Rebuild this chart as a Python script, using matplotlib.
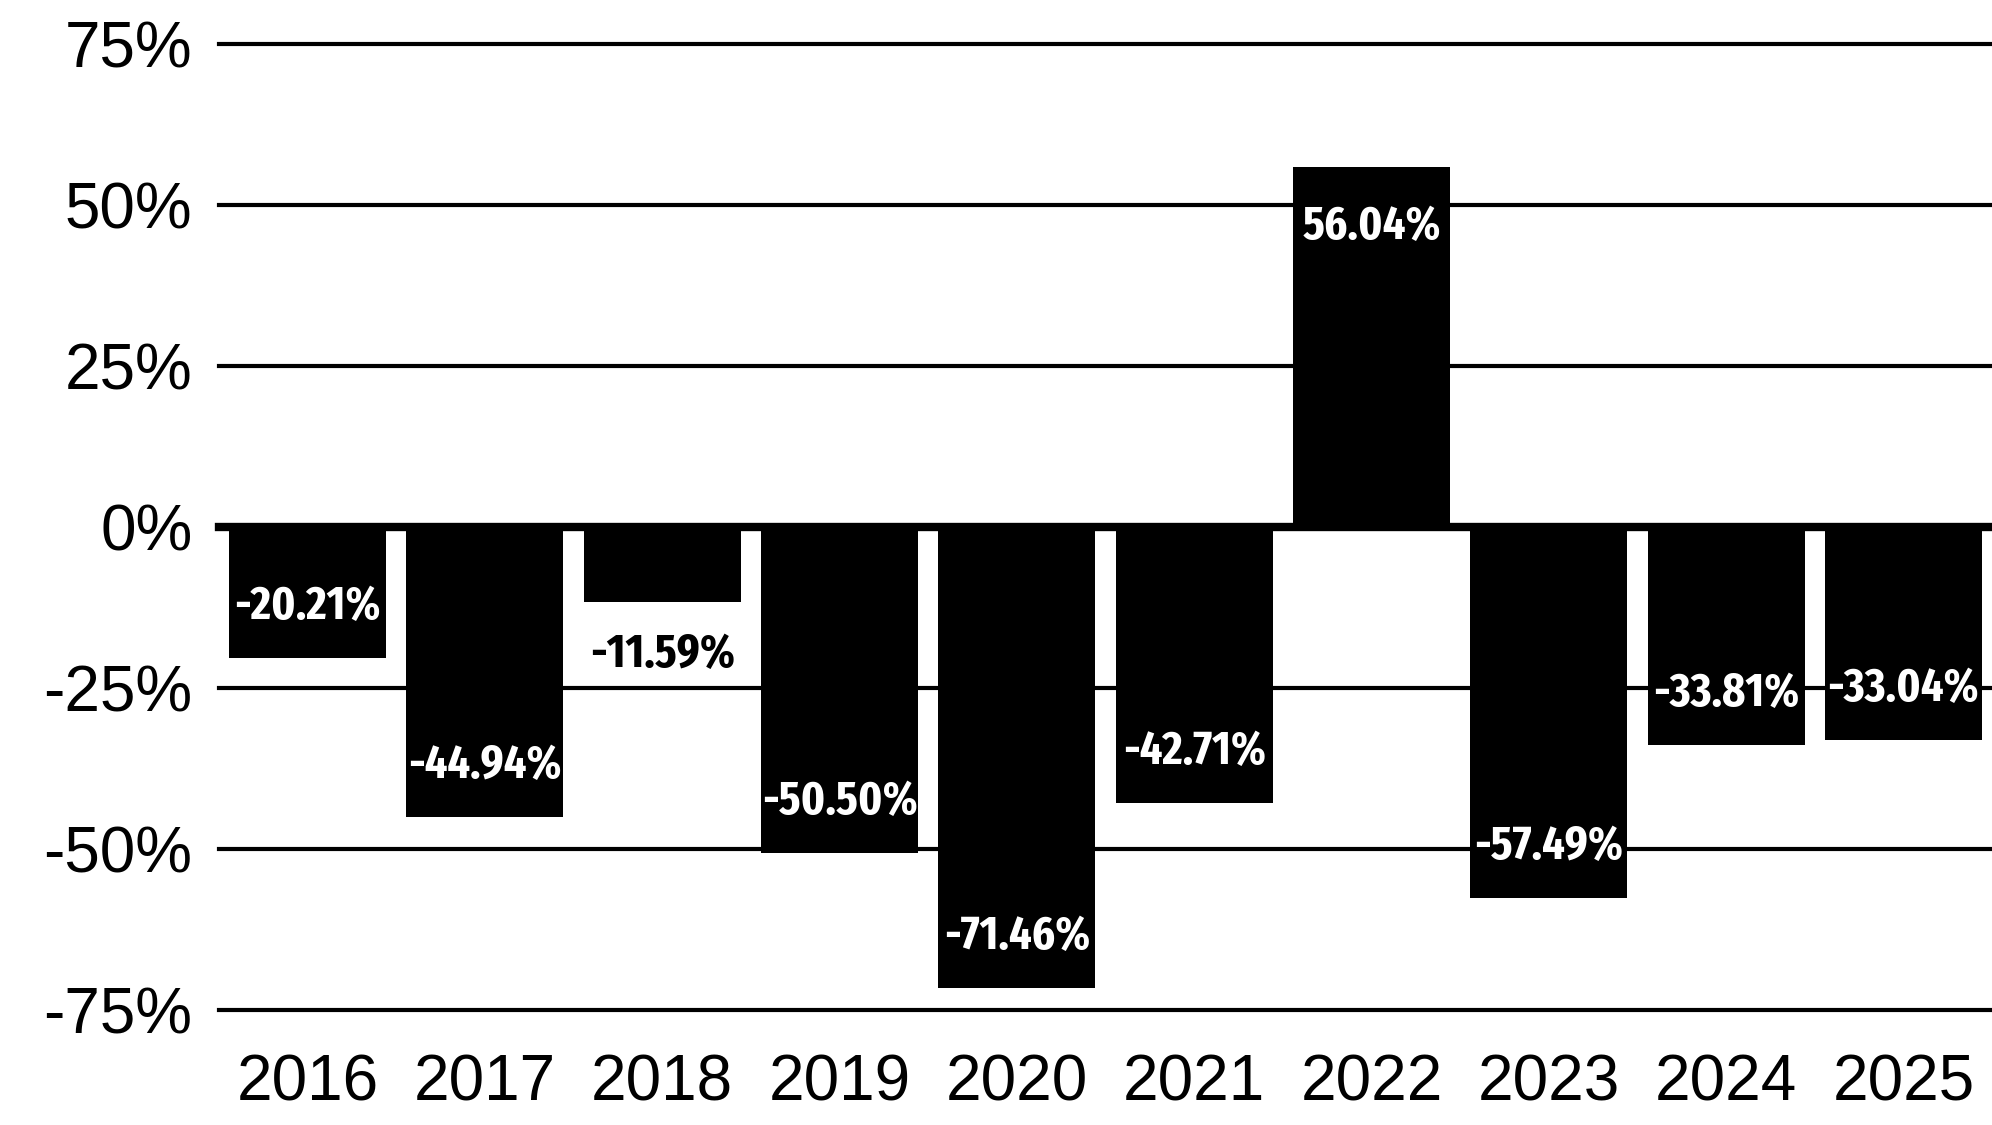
import matplotlib
matplotlib.use('Agg')
import matplotlib.pyplot as plt
from matplotlib import font_manager
from matplotlib.font_manager import FontProperties

years = ['2016', '2017', '2018', '2019', '2020', '2021', '2022', '2023', '2024', '2025']
returns = [-20.21, -44.94, -11.59, -50.50, -71.46, -42.71, 56.04, -57.49, -33.81, -33.04]
y_ticks = [75, 50, 25, 0, -25, -50, -75]
y_tick_labels = ['75%', '50%', '25%', '0%', '-25%', '-50%', '-75%']

plt.rcParams['font.family'] = ['Liberation Sans', 'DejaVu Sans']


def pick_condensed_font():
    # look for the narrowest bold face that happens to be installed
    rank = {'ultra-condensed': 0, 'extra-condensed': 1, 'condensed': 2, 'semi-condensed': 3}
    found = []
    for f in font_manager.fontManager.ttflist:
        fn = f.fname.lower()
        if 'italic' in fn or 'oblique' in fn:
            continue
        narrow = 'narrow' in fn or 'condensed' in fn or f.stretch in rank
        if not narrow:
            continue
        w = f.weight if isinstance(f.weight, int) else (700 if 'bold' in str(f.weight) else 400)
        if w < 500 or w > 800:
            continue
        r = rank.get(f.stretch, 2)
        if 'extracondensed' in fn or 'extra' in fn:
            r = 1
        found.append((r, abs(w - 650), f.fname))
    if found:
        found.sort()
        return FontProperties(fname=found[0][2])
    return FontProperties(family='DejaVu Sans', weight='bold')


label_fp = pick_condensed_font()

fig = plt.figure(figsize=(19.92, 11.25), dpi=100, facecolor='white')
ax = fig.add_axes([0.10994, 0.10178, 0.89006, 0.85867])

# scale the bar labels so the widest one fits the bar like in the source
probe = fig.text(0, 0, '-33.81%', fontproperties=label_fp, fontsize=40)
fig.canvas.draw()
probe_w = probe.get_window_extent().width
probe.remove()
label_size = min(46, 40 * 146 / probe_w)

x = list(range(len(years)))

for v in y_ticks:
    if v != 0:
        ax.axhline(v, color='black', linewidth=3, zorder=1, clip_on=False)

ax.bar(x, returns, width=0.885, color='black', zorder=2)
ax.axhline(0, color='black', linewidth=6, zorder=3, clip_on=False)

for xi, v in zip(x, returns):
    txt = f'{v:.2f}%'
    if abs(v) < 15:
        # too short for an inside label, put it under the bar
        ax.annotate(txt, (xi, v), xytext=(0, -38), textcoords='offset points',
                    ha='center', va='center', color='black', fontsize=label_size,
                    fontproperties=label_fp, zorder=4)
    else:
        dy = -43 if v > 0 else 37
        ax.annotate(txt, (xi, v), xytext=(0, dy), textcoords='offset points',
                    ha='center', va='center', color='white', fontsize=label_size,
                    fontproperties=label_fp, zorder=4)

ax.set_xlim(-0.5, len(years) - 0.5)
ax.set_ylim(-75, 75)
ax.set_xticks(x)
ax.set_xticklabels(years)
ax.set_yticks(y_ticks)
ax.set_yticklabels(y_tick_labels)
ax.tick_params(axis='both', length=0, labelsize=46)
ax.tick_params(axis='x', pad=31)
ax.tick_params(axis='y', pad=19)

for s in ax.spines.values():
    s.set_visible(False)

fig.savefig('out.png', dpi=100, facecolor='white')
